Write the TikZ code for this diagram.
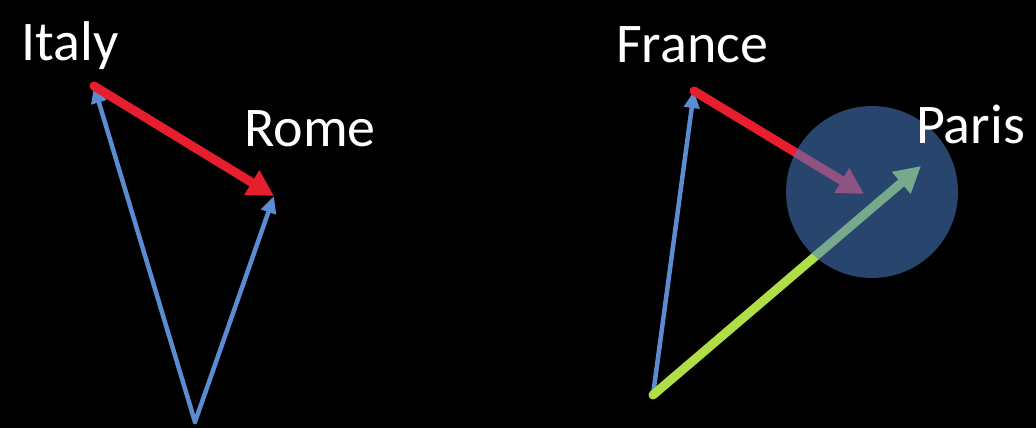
\documentclass[tikz,border=0pt]{standalone}
\usepackage{fontspec}
\setmainfont{Carlito}
\usetikzlibrary{arrows.meta}
\definecolor{vecblue}{RGB}{91,139,208}
\definecolor{vecred}{RGB}{230,30,45}
\definecolor{vecgreen}{RGB}{176,222,70}
\definecolor{blobblue}{RGB}{73,127,200}
\tikzset{
  wordtext/.style={text=white, font=\fontsize{56}{62}\selectfont, anchor=base west, inner sep=0pt},
  bluevec/.style={vecblue, line width=4.5pt, -{Triangle[length=17pt, width=15pt]}},
  redvec/.style={vecred, line width=9pt, -{Triangle[length=26pt, width=27pt]}},
  greenvec/.style={vecgreen, line width=9pt, -{Triangle[length=26pt, width=27pt]}},
}
\begin{document}
\begin{tikzpicture}[x=1pt, y=-1pt, line join=round, line cap=round]
  \fill[black] (0,0) rectangle (1036,428);
  \useasboundingbox (0,0) rectangle (1036,428);
  % left pair
  \coordinate (O1) at (195,422);
  \coordinate (IT) at (94,86);
  \coordinate (RO) at (274,196);
  \draw[bluevec] (O1) -- (IT);
  \draw[bluevec] (O1) -- (RO);
  \draw[redvec] (IT) -- (RO);
  \node[wordtext] (italy) at (21,60) {Italy};
  \node[wordtext] (rome) at (244,146) {Rome};
  % right pair
  \coordinate (O2) at (653,395);
  \coordinate (FR) at (694,91);
  \coordinate (RP) at (864,194);
  \coordinate (PA) at (921,166);
  \draw[bluevec] (O2) -- (FR);
  \draw[redvec] (FR) -- (RP);
  \draw[greenvec] (O2) -- (PA);
  \node[circle, fill=blobblue, fill opacity=0.55, minimum size=172pt, inner sep=0pt] (blob) at (872,192) {};
  \node[wordtext] (france) at (616,63) {France};
  \node[wordtext] (paris) at (916,143) {Paris};
\end{tikzpicture}
\end{document}
